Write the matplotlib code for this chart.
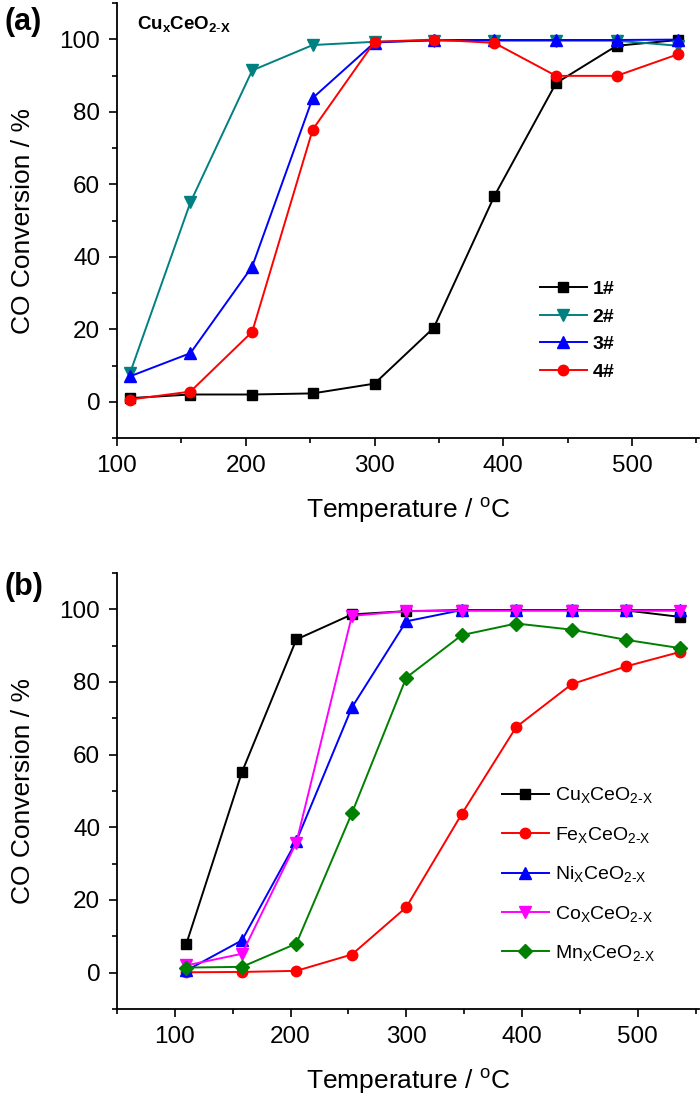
import matplotlib
matplotlib.use("Agg")
import matplotlib.pyplot as plt
from matplotlib.ticker import MultipleLocator
from matplotlib import font_manager

plt.rcParams['font.family'] = ['Liberation Sans', 'DejaVu Sans']
plt.rcParams['mathtext.fontset'] = 'custom'
plt.rcParams['mathtext.rm'] = 'Liberation Sans'
plt.rcParams['mathtext.bf'] = 'Liberation Sans:bold'
plt.rcParams['mathtext.default'] = 'regular'

names = {f.name for f in font_manager.fontManager.ttflist}
tick_family = 'Liberation Sans Narrow' if 'Liberation Sans Narrow' in names else 'Liberation Sans'
tick_size = 19 if tick_family == 'Liberation Sans Narrow' else 17.5

# ---- data ----
temps_a = [110, 157, 205, 252, 300, 346, 393, 441, 488, 536]
s1 = [1.0, 2.0, 2.0, 2.3, 5.0, 20.4, 56.7, 87.9, 98.2, 99.8]
s2 = [7.8, 55.0, 91.4, 98.4, 99.3, 99.6, 99.6, 99.6, 99.6, 98.2]
s3 = [7.0, 13.4, 37.3, 83.8, 99.1, 99.8, 99.8, 99.8, 99.8, 99.9]
s4 = [0.6, 2.8, 19.3, 75.1, 99.3, 99.9, 99.0, 89.9, 89.9, 95.9]
labels_a = ['1#', '2#', '3#', '4#']

temps_b = [110, 158, 205, 253, 300, 348, 395, 443, 490, 537]
cu = [8.0, 55.2, 91.7, 98.6, 99.5, 99.8, 99.8, 99.8, 99.7, 97.9]
fe = [0.1, 0.2, 0.5, 5.0, 18.0, 43.7, 67.6, 79.4, 84.3, 88.3]
ni = [0.6, 8.9, 36.2, 73.0, 96.7, 99.8, 99.8, 99.8, 99.8, 99.8]
co = [2.0, 5.2, 35.8, 98.2, 99.5, 99.6, 99.6, 99.6, 99.6, 99.6]
mn = [1.4, 1.6, 8.0, 43.9, 81.2, 92.9, 96.1, 94.4, 91.6, 89.3]
labels_b = [r'Cu$_\mathregular{X}$CeO$_\mathregular{2\text{-}X}$',
            r'Fe$_\mathregular{X}$CeO$_\mathregular{2\text{-}X}$',
            r'Ni$_\mathregular{X}$CeO$_\mathregular{2\text{-}X}$',
            r'Co$_\mathregular{X}$CeO$_\mathregular{2\text{-}X}$',
            r'Mn$_\mathregular{X}$CeO$_\mathregular{2\text{-}X}$']

W, H = 700, 1097
fig = plt.figure(figsize=(W / 100, H / 100), dpi=100)

def box(l, t, r, b):
    return [l / W, 1 - b / H, (r - l) / W, (b - t) / H]

ax1 = fig.add_axes(box(117, 3, 699, 438))
ax2 = fig.add_axes(box(117, 573, 699, 1009))

lw = 1.4
ms = 7

def style(ax, xmin, xmax):
    for s in ['top', 'right']:
        ax.spines[s].set_visible(False)
    for s in ['left', 'bottom']:
        ax.spines[s].set_linewidth(1.3)
    ax.set_xlim(xmin, xmax)
    ax.set_ylim(-10, 110)
    ax.xaxis.set_major_locator(MultipleLocator(100))
    ax.xaxis.set_minor_locator(MultipleLocator(50))
    ax.yaxis.set_major_locator(MultipleLocator(20))
    ax.yaxis.set_minor_locator(MultipleLocator(10))
    ax.tick_params(which='major', direction='out', length=6, width=1.2,
                   labelsize=tick_size, pad=6)
    ax.tick_params(which='minor', direction='out', length=3.5, width=1.2)
    for lab in ax.get_xticklabels() + ax.get_yticklabels():
        lab.set_family(tick_family)
    ax.set_xlabel(r'Temperature / $^\mathregular{o}$C', fontsize=19, labelpad=14)
    ax.set_ylabel('CO Conversion / %', fontsize=19, labelpad=18)

# panel a
ax1.plot(temps_a, s1, '-s', color='black', lw=lw, ms=ms, label=labels_a[0])
ax1.plot(temps_a, s2, '-v', color='#008080', lw=lw, ms=ms + 1, label=labels_a[1])
ax1.plot(temps_a, s3, '-^', color='#0000FF', lw=lw, ms=ms + 1, label=labels_a[2])
ax1.plot(temps_a, s4, '-o', color='#FF0000', lw=lw, ms=ms + 0.5, label=labels_a[3])
style(ax1, 100, 552)
leg1 = ax1.legend(loc='upper left', bbox_to_anchor=(0.71, 0.385), frameon=False,
                  prop={'size': 14, 'weight': 'bold'}, handlelength=2.4,
                  handletextpad=0.3, labelspacing=0.52, borderpad=0)
ax1.text(0.035, 0.975, r'Cu$_\mathbf{x}$CeO$_\mathbf{2\text{-}X}$', transform=ax1.transAxes,
         fontsize=13.5, fontweight='bold', ha='left', va='top')
fig.text(4 / W, 1 - 22 / H, '(a)', fontsize=22, fontweight='bold', ha='left', va='center')

# panel b
ax2.plot(temps_b, cu, '-s', color='black', lw=lw, ms=ms, label=labels_b[0])
ax2.plot(temps_b, fe, '-o', color='#FF0000', lw=lw, ms=ms + 0.5, label=labels_b[1])
ax2.plot(temps_b, ni, '-^', color='#0000FF', lw=lw, ms=ms + 1, label=labels_b[2])
ax2.plot(temps_b, co, '-v', color='#FF00FF', lw=lw, ms=ms + 1, label=labels_b[3])
ax2.plot(temps_b, mn, '-D', color='#008000', lw=lw, ms=ms, label=labels_b[4])
style(ax2, 50, 553)
leg2 = ax2.legend(loc='upper left', bbox_to_anchor=(0.645, 0.535), frameon=False,
                  prop={'size': 14}, handlelength=2.4,
                  handletextpad=0.3, labelspacing=1.0, borderpad=0)
fig.text(4 / W, 1 - 587 / H, '(b)', fontsize=22, fontweight='bold', ha='left', va='center')

fig.savefig('out.png', dpi=100)
